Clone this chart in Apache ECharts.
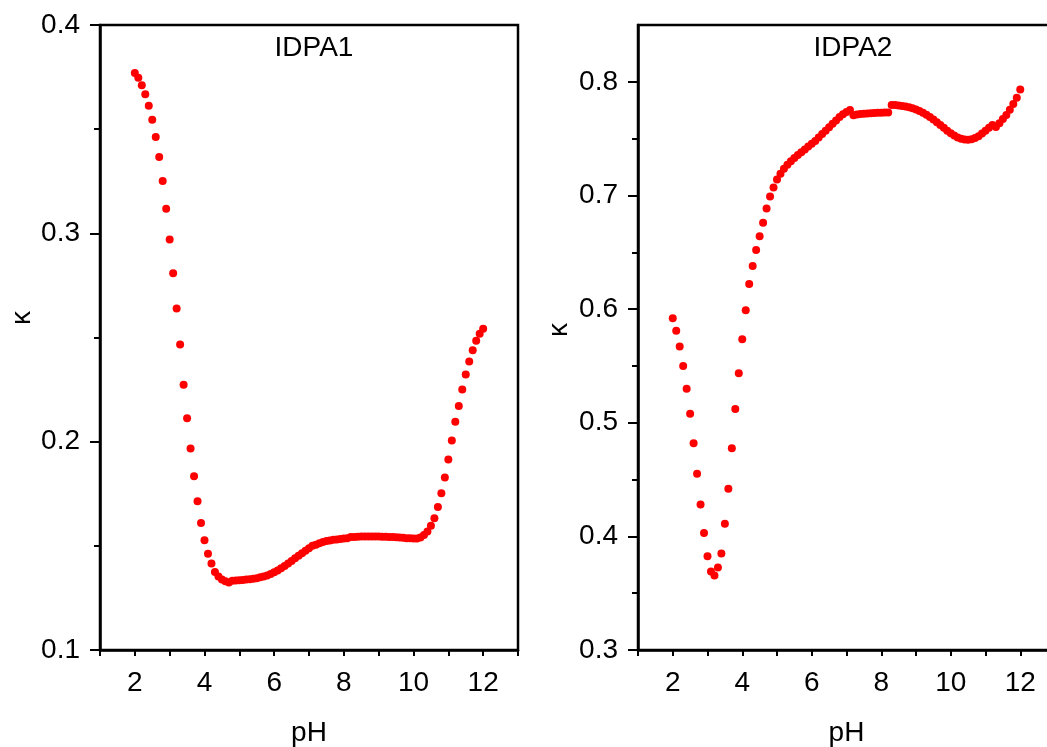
<!DOCTYPE html>
<html lang="en">
<head>
<meta charset="UTF-8">
<title>IDPA1 / IDPA2 kappa vs pH</title>
<script src="https://cdn.jsdelivr.net/npm/echarts@6/dist/echarts.min.js"></script>
<style>
  html, body { margin: 0; padding: 0; background: #fff; }
  #main { width: 1047px; height: 747px; }
</style>
</head>
<body>
<div id="main"></div>
<script>
// pH sampling points, shared by both samples
var ph = [
  2.0, 2.1, 2.2, 2.3, 2.4, 2.5, 2.6, 2.7, 2.8, 2.9,
  3.0, 3.1, 3.2, 3.3, 3.4, 3.5, 3.6, 3.7, 3.8, 3.9,
  4.0, 4.1, 4.2, 4.3, 4.4, 4.5, 4.6, 4.7, 4.8, 4.9,
  5.0, 5.1, 5.2, 5.3, 5.4, 5.5, 5.6, 5.7, 5.8, 5.9,
  6.0, 6.1, 6.2, 6.3, 6.4, 6.5, 6.6, 6.7, 6.8, 6.9,
  7.0, 7.1, 7.2, 7.3, 7.4, 7.5, 7.6, 7.7, 7.8, 7.9,
  8.0, 8.1, 8.2, 8.3, 8.4, 8.5, 8.6, 8.7, 8.8, 8.9,
  9.0, 9.1, 9.2, 9.3, 9.4, 9.5, 9.6, 9.7, 9.8, 9.9,
  10.0, 10.1, 10.2, 10.3, 10.4, 10.5, 10.6, 10.7, 10.8, 10.9,
  11.0, 11.1, 11.2, 11.3, 11.4, 11.5, 11.6, 11.7, 11.8, 11.9,
  12.0
];

// kappa for IDPA1 (left panel)
var kappa1 = [
  0.3770, 0.3747, 0.3711, 0.3668, 0.3612, 0.3545, 0.3463, 0.3366, 0.3251, 0.3118,
  0.2970, 0.2808, 0.2639, 0.2466, 0.2273, 0.2112, 0.1967, 0.1834, 0.1714, 0.1610,
  0.1527, 0.1462, 0.1415, 0.1375, 0.1353, 0.1338, 0.1330, 0.1324, 0.1333, 0.1334,
  0.1335, 0.1336, 0.1338, 0.1340, 0.1342, 0.1345, 0.1349, 0.1353, 0.1358, 0.1365,
  0.1373, 0.1382, 0.1392, 0.1403, 0.1415, 0.1427, 0.1440, 0.1453, 0.1465, 0.1477,
  0.1488, 0.1500, 0.1505, 0.1512, 0.1518, 0.1523, 0.1526, 0.1529, 0.1531, 0.1533,
  0.1535, 0.1537, 0.1542, 0.1543, 0.1544, 0.1545, 0.1545, 0.1545, 0.1545, 0.1545,
  0.1545, 0.1544, 0.1544, 0.1543, 0.1542, 0.1541, 0.1540, 0.1539, 0.1537, 0.1536,
  0.1535, 0.1535, 0.1540, 0.1552, 0.1569, 0.1596, 0.1633, 0.1687, 0.1752, 0.1828,
  0.1914, 0.2006, 0.2096, 0.2171, 0.2251, 0.2323, 0.2385, 0.2439, 0.2484, 0.2518,
  0.2542
];

// kappa for IDPA2 (right panel)
var kappa2 = [
  0.5920, 0.5810, 0.5670, 0.5500, 0.5300, 0.5080, 0.4820, 0.4550, 0.4280, 0.4030,
  0.3825, 0.3690, 0.3655, 0.3725, 0.3850, 0.4110, 0.4420, 0.4775, 0.5120, 0.5435,
  0.5735, 0.5990, 0.6220, 0.6380, 0.6520, 0.6640, 0.6760, 0.6885, 0.6990, 0.7070,
  0.7140, 0.7190, 0.7235, 0.7270, 0.7300, 0.7330, 0.7355, 0.7380, 0.7405, 0.7430,
  0.7455, 0.7480, 0.7510, 0.7540, 0.7570, 0.7600, 0.7630, 0.7660, 0.7690, 0.7715,
  0.7735, 0.7752, 0.7705, 0.7712, 0.7716, 0.7719, 0.7721, 0.7723, 0.7725, 0.7727,
  0.7728, 0.7729, 0.7731, 0.7796, 0.7795, 0.7792, 0.7788, 0.7783, 0.7776, 0.7767,
  0.7756, 0.7744, 0.7728, 0.7710, 0.7690, 0.7668, 0.7645, 0.7620, 0.7595, 0.7570,
  0.7548, 0.7528, 0.7511, 0.7499, 0.7492, 0.7490, 0.7495, 0.7505, 0.7522, 0.7545,
  0.7570, 0.7595, 0.7620, 0.7602, 0.7635, 0.7672, 0.7708, 0.7754, 0.7804, 0.7860,
  0.7933
];

// tick values
var xLabelValues = [2, 4, 6, 8, 10, 12];
var xTickValues = [1, 2, 3, 4, 5, 6, 7, 8, 9, 10, 11, 12, 13];
var y1LabelValues = [0.1, 0.2, 0.3, 0.4];
var y1MinorValues = [0.15, 0.25, 0.35];
var y2LabelValues = [0.3, 0.4, 0.5, 0.6, 0.7, 0.8];
var y2MinorValues = [0.35, 0.45, 0.55, 0.65, 0.75];

var FONT = 'Liberation Sans, Arial, sans-serif';
var chart = echarts.init(document.getElementById('main'));

function pairs(xs, ys) {
  return xs.map(function (x, i) { return [x, ys[i]]; });
}

var axisLineStyle = { color: '#000', width: 2.5 };
var tickLineStyle = { color: '#000', width: 2 };

function xAxisFor(gridIndex) {
  return {
    type: 'value', gridIndex: gridIndex, min: 1, max: 13,
    name: 'pH', nameLocation: 'middle', nameGap: 69,
    nameTextStyle: { fontFamily: FONT, fontSize: 28, color: '#000' },
    axisLine: { onZero: false, lineStyle: axisLineStyle },
    axisTick: { customValues: xTickValues, length: 6, lineStyle: tickLineStyle },
    axisLabel: { customValues: xLabelValues, margin: 19, fontFamily: FONT, fontSize: 28, color: '#000' },
    splitLine: { show: false }
  };
}

// main y axis: line, long ticks and labels
function yAxisFor(gridIndex, min, max, labels) {
  return {
    type: 'value', gridIndex: gridIndex, min: min, max: max,
    axisLine: { onZero: false, lineStyle: axisLineStyle },
    axisTick: { customValues: labels, length: 10, lineStyle: tickLineStyle },
    axisLabel: {
      customValues: labels, margin: 20, fontFamily: FONT, fontSize: 28, color: '#000',
      formatter: function (v) { return v.toFixed(1); }
    },
    splitLine: { show: false }
  };
}

// overlay y axis that only draws the short minor ticks
function yMinorFor(gridIndex, min, max, minors) {
  return {
    type: 'value', gridIndex: gridIndex, min: min, max: max, position: 'left',
    axisLine: { show: false, onZero: false },
    axisTick: { customValues: minors, length: 6, lineStyle: tickLineStyle },
    axisLabel: { show: false },
    splitLine: { show: false }
  };
}

function textEl(str, x, y, rot) {
  return {
    type: 'text', x: x, y: y, rotation: rot || 0,
    style: {
      text: str, fill: '#000', font: '28px ' + FONT,
      textAlign: 'center', textVerticalAlign: 'middle'
    }
  };
}

function gridAt(left, width) {
  return {
    left: left, top: 25, width: width, height: 625,
    outerBoundsMode: 'none', containLabel: false,
    show: true, borderColor: '#000', borderWidth: 2.5
  };
}

var option = {
  animation: false,
  backgroundColor: '#fff',
  grid: [gridAt(100, 418), gridAt(638, 417)],
  xAxis: [xAxisFor(0), xAxisFor(1)],
  yAxis: [
    yAxisFor(0, 0.1, 0.4, y1LabelValues),
    yMinorFor(0, 0.1, 0.4, y1MinorValues),
    yAxisFor(1, 0.3, 0.85, y2LabelValues),
    yMinorFor(1, 0.3, 0.85, y2MinorValues)
  ],
  graphic: [
    textEl('IDPA1', 314, 48),
    textEl('IDPA2', 853, 48),
    textEl('κ', 22, 318, Math.PI / 2),
    textEl('κ', 559, 330, Math.PI / 2)
  ],
  series: [
    {
      type: 'scatter', xAxisIndex: 0, yAxisIndex: 0,
      data: pairs(ph, kappa1), symbol: 'circle', symbolSize: 8,
      itemStyle: { color: '#ff0000', opacity: 1 }
    },
    {
      type: 'scatter', xAxisIndex: 1, yAxisIndex: 2,
      data: pairs(ph, kappa2), symbol: 'circle', symbolSize: 8,
      itemStyle: { color: '#ff0000', opacity: 1 }
    }
  ]
};

chart.setOption(option);
</script>
</body>
</html>
